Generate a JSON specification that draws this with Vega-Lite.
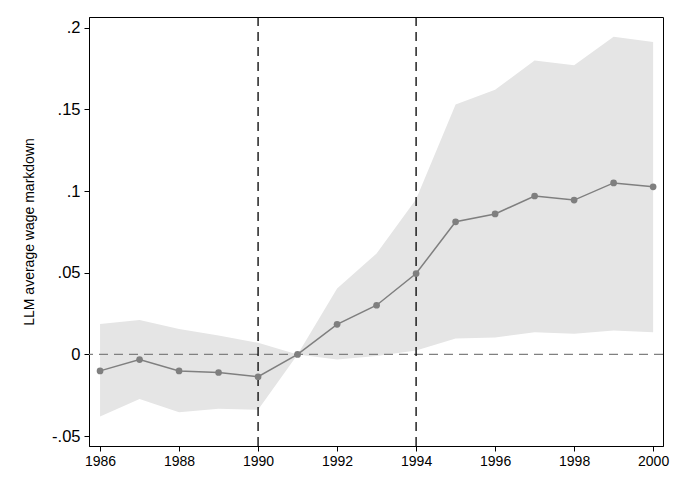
{
  "$schema": "https://vega.github.io/schema/vega-lite/v6.json",
  "width": 574,
  "height": 429,
  "autosize": "none",
  "padding": {"left": 89, "top": 17, "right": 17, "bottom": 48},
  "background": "white",
  "config": {
    "view": {"stroke": "black", "strokeWidth": 1},
    "font": "Liberation Sans",
    "axis": {
      "grid": false,
      "domainColor": "black",
      "tickColor": "black",
      "tickSize": 5,
      "labelColor": "black",
      "labelFont": "Liberation Sans",
      "titleFont": "Liberation Sans",
      "titleFontWeight": "normal",
      "titleColor": "black"
    }
  },
  "data": {
    "values": [
      {"year": 1986, "b": -0.0101, "lo": -0.0380, "hi": 0.0186},
      {"year": 1987, "b": -0.0032, "lo": -0.0273, "hi": 0.0210},
      {"year": 1988, "b": -0.0101, "lo": -0.0354, "hi": 0.0156},
      {"year": 1989, "b": -0.0111, "lo": -0.0333, "hi": 0.0115},
      {"year": 1990, "b": -0.0137, "lo": -0.0339, "hi": 0.0071},
      {"year": 1991, "b": 0.0, "lo": 0.0, "hi": 0.0},
      {"year": 1992, "b": 0.0184, "lo": -0.0032, "hi": 0.0404},
      {"year": 1993, "b": 0.0301, "lo": -0.0010, "hi": 0.0618},
      {"year": 1994, "b": 0.0495, "lo": 0.0024, "hi": 0.0950},
      {"year": 1995, "b": 0.0812, "lo": 0.0097, "hi": 0.1530},
      {"year": 1996, "b": 0.0860, "lo": 0.0103, "hi": 0.1620},
      {"year": 1997, "b": 0.0970, "lo": 0.0135, "hi": 0.1800},
      {"year": 1998, "b": 0.0945, "lo": 0.0127, "hi": 0.1770},
      {"year": 1999, "b": 0.1050, "lo": 0.0147, "hi": 0.1945},
      {"year": 2000, "b": 0.1026, "lo": 0.0135, "hi": 0.1913}
    ]
  },
  "encoding": {
    "x": {
      "field": "year",
      "type": "quantitative",
      "scale": {"domain": [1985.72, 2000.25], "nice": false, "zero": false},
      "axis": {
        "title": null,
        "values": [1986, 1988, 1990, 1992, 1994, 1996, 1998, 2000],
        "format": "d",
        "labelFontSize": 14,
        "labelPadding": 3
      }
    }
  },
  "layer": [
    {
      "mark": {"type": "area", "color": "#e5e5e5", "opacity": 1},
      "encoding": {
        "y": {
          "field": "lo",
          "type": "quantitative",
          "scale": {"domain": [-0.0561, 0.2066], "nice": false, "zero": false},
          "axis": {
            "title": "LLM average wage markdown",
            "titleFontSize": 14,
            "titlePadding": 15,
            "values": [-0.05, 0, 0.05, 0.1, 0.15, 0.2],
            "labelExpr": "replace(replace(format(datum.value, '.2~f'), '0.', '.'), '\u2212', '-')",
            "labelFontSize": 16.5,
            "labelPadding": 4
          }
        },
        "y2": {"field": "hi"}
      }
    },
    {
      "data": {"values": [{"z": 0}]},
      "mark": {"type": "rule", "color": "#808080", "strokeDash": [9, 6], "strokeWidth": 1.3},
      "encoding": {"y": {"field": "z", "type": "quantitative"}, "x": null}
    },
    {
      "data": {"values": [{"year": 1990}, {"year": 1994}]},
      "mark": {"type": "rule", "color": "black", "strokeDash": [9, 6], "strokeWidth": 1.3},
      "encoding": {}
    },
    {
      "mark": {"type": "line", "color": "#7f7f7f", "strokeWidth": 1.5},
      "encoding": {"y": {"field": "b", "type": "quantitative"}}
    },
    {
      "mark": {"type": "point", "filled": true, "color": "#7f7f7f", "opacity": 1, "size": 45},
      "encoding": {"y": {"field": "b", "type": "quantitative"}}
    }
  ]
}
